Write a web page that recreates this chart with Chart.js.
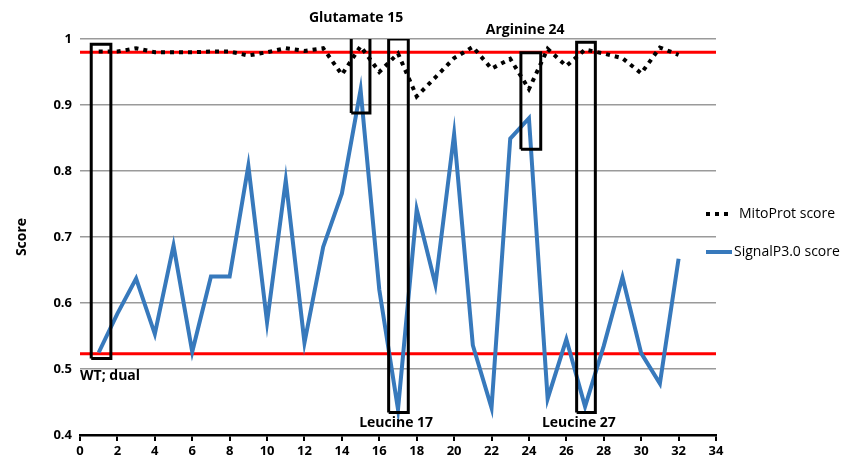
<!DOCTYPE html>
<html>
<head>
<meta charset="utf-8">
<script src="https://cdn.jsdelivr.net/npm/chart.js@4/dist/chart.umd.min.js"></script>
<style>
  body { margin: 0; background: #fff; }
  #wrap { width: 845px; height: 467px; }
</style>
</head>
<body>
<div id="wrap"><canvas id="scoreChart"></canvas></div>
<script>
const positions = [1, 2, 3, 4, 5, 6, 7, 8, 9, 10, 11, 12, 13, 14, 15, 16, 17, 18, 19, 20, 21, 22, 23, 24, 25, 26, 27, 28, 29, 30, 31, 32];
const mitoProt = [0.981, 0.981, 0.986, 0.98, 0.98, 0.98, 0.981, 0.981, 0.975, 0.98, 0.986, 0.982, 0.986, 0.946, 0.989, 0.95, 0.978, 0.913, 0.942, 0.971, 0.988, 0.955, 0.97, 0.924, 0.985, 0.959, 0.984, 0.978, 0.971, 0.948, 0.987, 0.976];
const signalP = [0.525, 0.584, 0.637, 0.553, 0.687, 0.526, 0.64, 0.64, 0.808, 0.571, 0.786, 0.54, 0.685, 0.766, 0.923, 0.62, 0.439, 0.742, 0.628, 0.856, 0.536, 0.441, 0.849, 0.88, 0.455, 0.545, 0.443, 0.535, 0.639, 0.524, 0.478, 0.667];
const thresholds = [0.98, 0.523];
const yTicks = [0.4, 0.5, 0.6, 0.7, 0.8, 0.9, 1];

// highlight boxes: [xFrom, xTo, yBottom, yTop]
const boxes = [
  [0.6, 1.65, 0.516, 0.992],
  [14.5, 15.5, 0.888, 1.005],
  [16.5, 17.55, 0.434, 1.0],
  [23.57, 24.63, 0.833, 0.979],
  [26.55, 27.55, 0.434, 0.995]
];
// annotations: [text, x, y, align]
const notes = [
  ["Glutamate 15", 14.76, 1.032, "center"],
  ["Arginine 24", 23.8, 1.013, "center"],
  ["WT; dual", 0.0, 0.489, "left"],
  ["Leucine 17", 16.9, 0.418, "center"],
  ["Leucine 27", 26.67, 0.418, "center"]
];
const legendItems = ["MitoProt score", "SignalP3.0 score"];

const FONT = "'Open Sans', 'Liberation Sans', sans-serif";
const blue = "#3779BC";

const datasets = [];
thresholds.forEach(t => {
  datasets.push({
    data: [{ x: 0, y: t }, { x: 34, y: t }],
    borderColor: "#ff0000", borderWidth: 3, pointRadius: 0, order: 3
  });
});
boxes.forEach(b => {
  datasets.push({
    data: [{ x: b[0], y: b[2] }, { x: b[1], y: b[2] }, { x: b[1], y: b[3] }, { x: b[0], y: b[3] }, { x: b[0], y: b[2] }],
    borderColor: "#000", borderWidth: 3, pointRadius: 0, borderJoinStyle: "miter", order: 1
  });
});
datasets.push({
  label: legendItems[0],
  data: positions.map((p, i) => ({ x: p, y: mitoProt[i] })),
  borderColor: "#000", borderWidth: 4, borderDash: [4, 5], pointRadius: 0, order: 2
});
datasets.push({
  label: legendItems[1],
  data: positions.map((p, i) => ({ x: p, y: signalP[i] })),
  borderColor: blue, borderWidth: 4, pointRadius: 0, order: 2
});

const extras = {
  id: "extras",
  afterDraw(chart) {
    const { ctx, scales: { x, y } } = chart;
    ctx.save();
    ctx.fillStyle = "#000";
    ctx.font = "bold 14px " + FONT;
    ctx.textBaseline = "middle";
    notes.forEach(n => {
      ctx.textAlign = n[3];
      ctx.fillText(n[0], x.getPixelForValue(n[1]), y.getPixelForValue(n[2]));
    });
    ctx.textAlign = "left";

    // legend
    const lx = 706, ly = [214, 252];
    ctx.font = "14px " + FONT;
    ctx.lineWidth = 4;
    ctx.strokeStyle = "#000";
    ctx.setLineDash([4, 5]);
    ctx.beginPath(); ctx.moveTo(lx, ly[0]); ctx.lineTo(lx + 26, ly[0]); ctx.stroke();
    ctx.setLineDash([]);
    ctx.strokeStyle = blue;
    ctx.beginPath(); ctx.moveTo(lx, ly[1]); ctx.lineTo(lx + 26, ly[1]); ctx.stroke();
    ctx.fillText(legendItems[0], lx + 33, ly[0]);
    ctx.fillText(legendItems[1], lx + 28, ly[1]);

    // y title
    ctx.font = "bold 14px " + FONT;
    ctx.translate(22, 237);
    ctx.rotate(-Math.PI / 2);
    ctx.textAlign = "center";
    ctx.fillText("Score", 0, 0);
    ctx.restore();
  }
};

new Chart(document.getElementById("scoreChart"), {
  type: "line",
  data: { datasets },
  options: {
    responsive: true,
    maintainAspectRatio: false,
    animation: false,
    layout: { padding: { top: 39, right: 129, left: 0, bottom: 0 } },
    plugins: { legend: { display: false }, tooltip: { enabled: false } },
    scales: {
      x: {
        type: "linear", min: 0, max: 34,
        ticks: { stepSize: 2, color: "#000", font: { family: FONT, size: 13, weight: "bold" }, padding: 2 },
        grid: { display: true, drawOnChartArea: false, drawTicks: true, tickLength: 6, color: "#000", lineWidth: 2 },
        border: { color: "#000", width: 2.5 },
        afterFit: s => { s.height = 32; }
      },
      y: {
        min: 0.4, max: 1,
        afterBuildTicks: s => { s.ticks = yTicks.map(v => ({ value: v })); },
        ticks: {
          color: "#000", font: { family: FONT, size: 13, weight: "bold" }, padding: 8,
          callback: v => String(v)
        },
        grid: { color: "#9a9a9a", lineWidth: 1.5, drawTicks: false },
        border: { display: false },
        afterFit: s => { s.width = 80; }
      }
    }
  },
  plugins: [extras]
});
</script>
</body>
</html>
